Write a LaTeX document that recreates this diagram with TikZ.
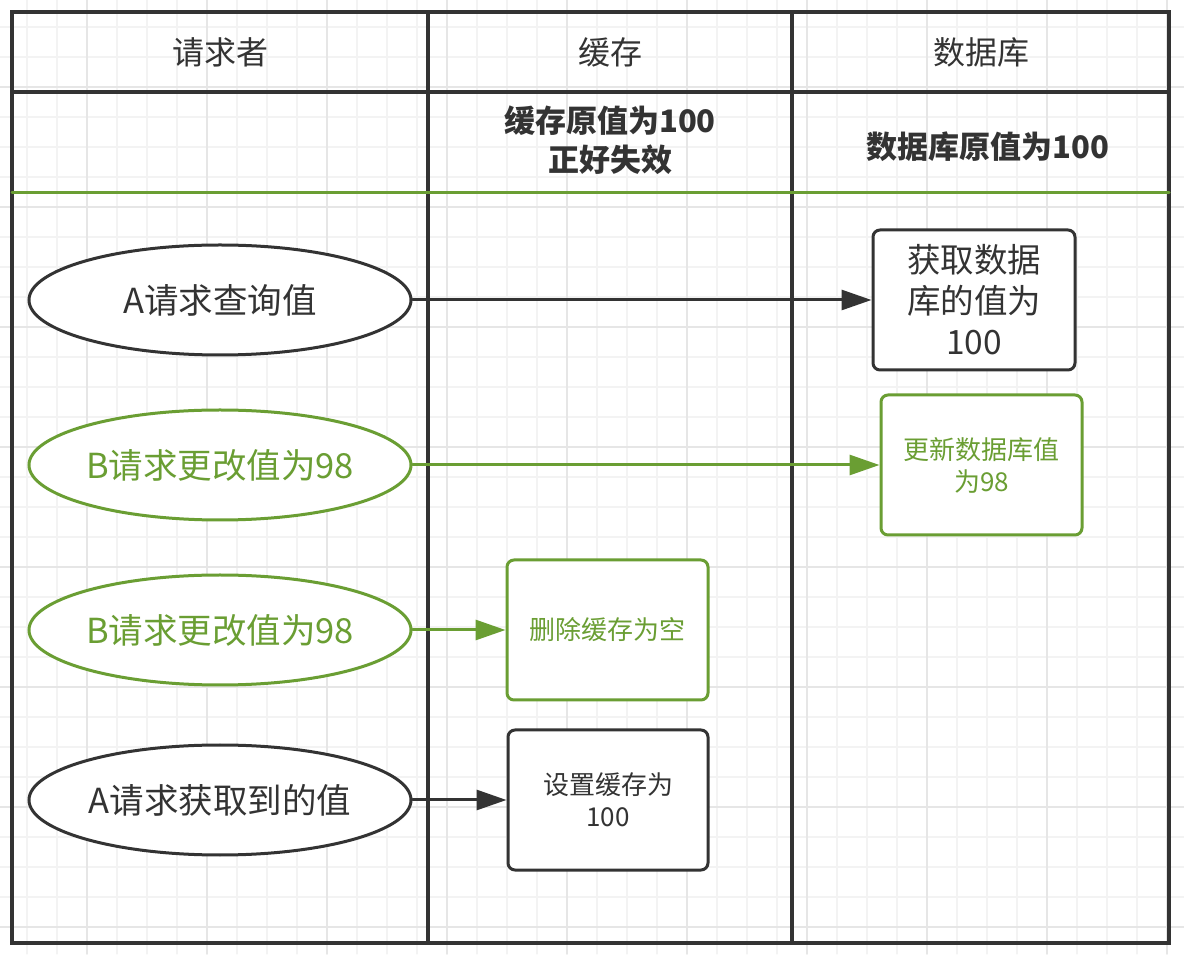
\documentclass[tikz,border=0pt]{standalone}
\usepackage{fontspec}
\setmainfont{Noto Sans CJK SC}
\usepackage{tikz}
\usetikzlibrary{shapes.geometric,arrows.meta}

\begin{document}
\begin{tikzpicture}
			[x=1pt,y=1pt,line cap=round,
			%Styles
			grid minor/.style={draw=gridlight,line width=1.3pt},
			grid major/.style={draw=griddark,line width=1.3pt},
			lane line/.style={draw=darkline,line width=3.2pt,line join=miter},
			head text/.style={text=darkline,font=\fontsize{32}{38}\selectfont},
			note text/.style={text=darkline,align=center,font=\bfseries\fontsize{31}{39}\selectfont},
			req node/.style={ellipse,draw=#1,line width=3pt,fill=white,text=#1,
				minimum width=382pt,minimum height=110pt,inner sep=0pt,
				font=\fontsize{34.5}{40}\selectfont},
			task box/.style={rectangle,rounded corners=7pt,draw=#1,line width=3pt,fill=white,
				text=#1,align=center,minimum height=140pt,inner sep=0pt},
			flow/.style={draw=#1,line width=3pt,-{Triangle[length=30pt,width=20pt]}}
			]
			
			%Colors
			\definecolor{darkline}{HTML}{333333}	%lanes, black shapes
			\definecolor{greenline}{HTML}{6A9E33}	%the B steps
			\definecolor{gridlight}{HTML}{F3F3F3}
			\definecolor{griddark}{HTML}{E6E6E6}
			
			\useasboundingbox (0,0) rectangle (1184,954);
			\fill[white] (0,0) rectangle (1184,954);
			
			%Grid
			\foreach \gx in {-3,27,...,1184} \draw[grid minor] (\gx,0) -- (\gx,954);
			\foreach \gy in {-3,27,...,954} \draw[grid minor] (0,\gy) -- (1184,\gy);
			\foreach \gx in {87,207,...,1184} \draw[grid major] (\gx,0) -- (\gx,954);
			\foreach \gy in {27,147,...,954} \draw[grid major] (0,\gy) -- (1184,\gy);
			
			%Lanes
			\coordinate (LT) at (12,942);
			\coordinate (RB) at (1169,11);
			\draw[lane line] (LT) rectangle (RB);
			\draw[lane line] (12,862) -- (1169,862);
			\draw[lane line] (428,942) -- (428,11);
			\draw[lane line] (792,942) -- (792,11);
			\draw[draw=greenline,line width=3pt] (12,761) -- (1169,761);
			
			\node[head text] (H1) at (220,902) {请求者};
			\node[head text] (H2) at (610,902) {缓存};
			\node[head text] (H3) at (981,902) {数据库};
			\node[note text] (N2) at (610,814) {缓存原值为100\\正好失效};
			\node[note text] (N3) at (988,807) {数据库原值为100};
			
			%The graphic
			\node[req node=darkline] (RA1) at (220,654) {A请求查询值};
			\node[req node=greenline] (RB1) at (220,489) {B请求更改值为98};
			\node[req node=greenline] (RB2) at (220,324) {B请求更改值为98};
			\node[req node=darkline] (RA2) at (220,154) {A请求获取到的值};
			
			\node[task box=darkline,minimum width=202pt,font=\fontsize{33.5}{41}\selectfont]
				(D1) at (974,654) {获取数据\\库的值为\\100};
			\node[task box=greenline,minimum width=201pt,font=\fontsize{26}{32}\selectfont]
				(D2) at (981.5,489) {更新数据库值\\为98};
			\node[task box=greenline,minimum width=201pt,font=\fontsize{26}{32}\selectfont]
				(C1) at (607.5,324) {删除缓存为空};
			\node[task box=darkline,minimum width=200pt,font=\fontsize{26}{32}\selectfont]
				(C2) at (608,154) {设置缓存为\\100};
			
			\path	(RA1) edge[flow=darkline] (D1)
					(RB1) edge[flow=greenline] (D2)
					(RB2) edge[flow=greenline] (C1)
					(RA2) edge[flow=darkline] (C2);
		\end{tikzpicture}
\end{document}
